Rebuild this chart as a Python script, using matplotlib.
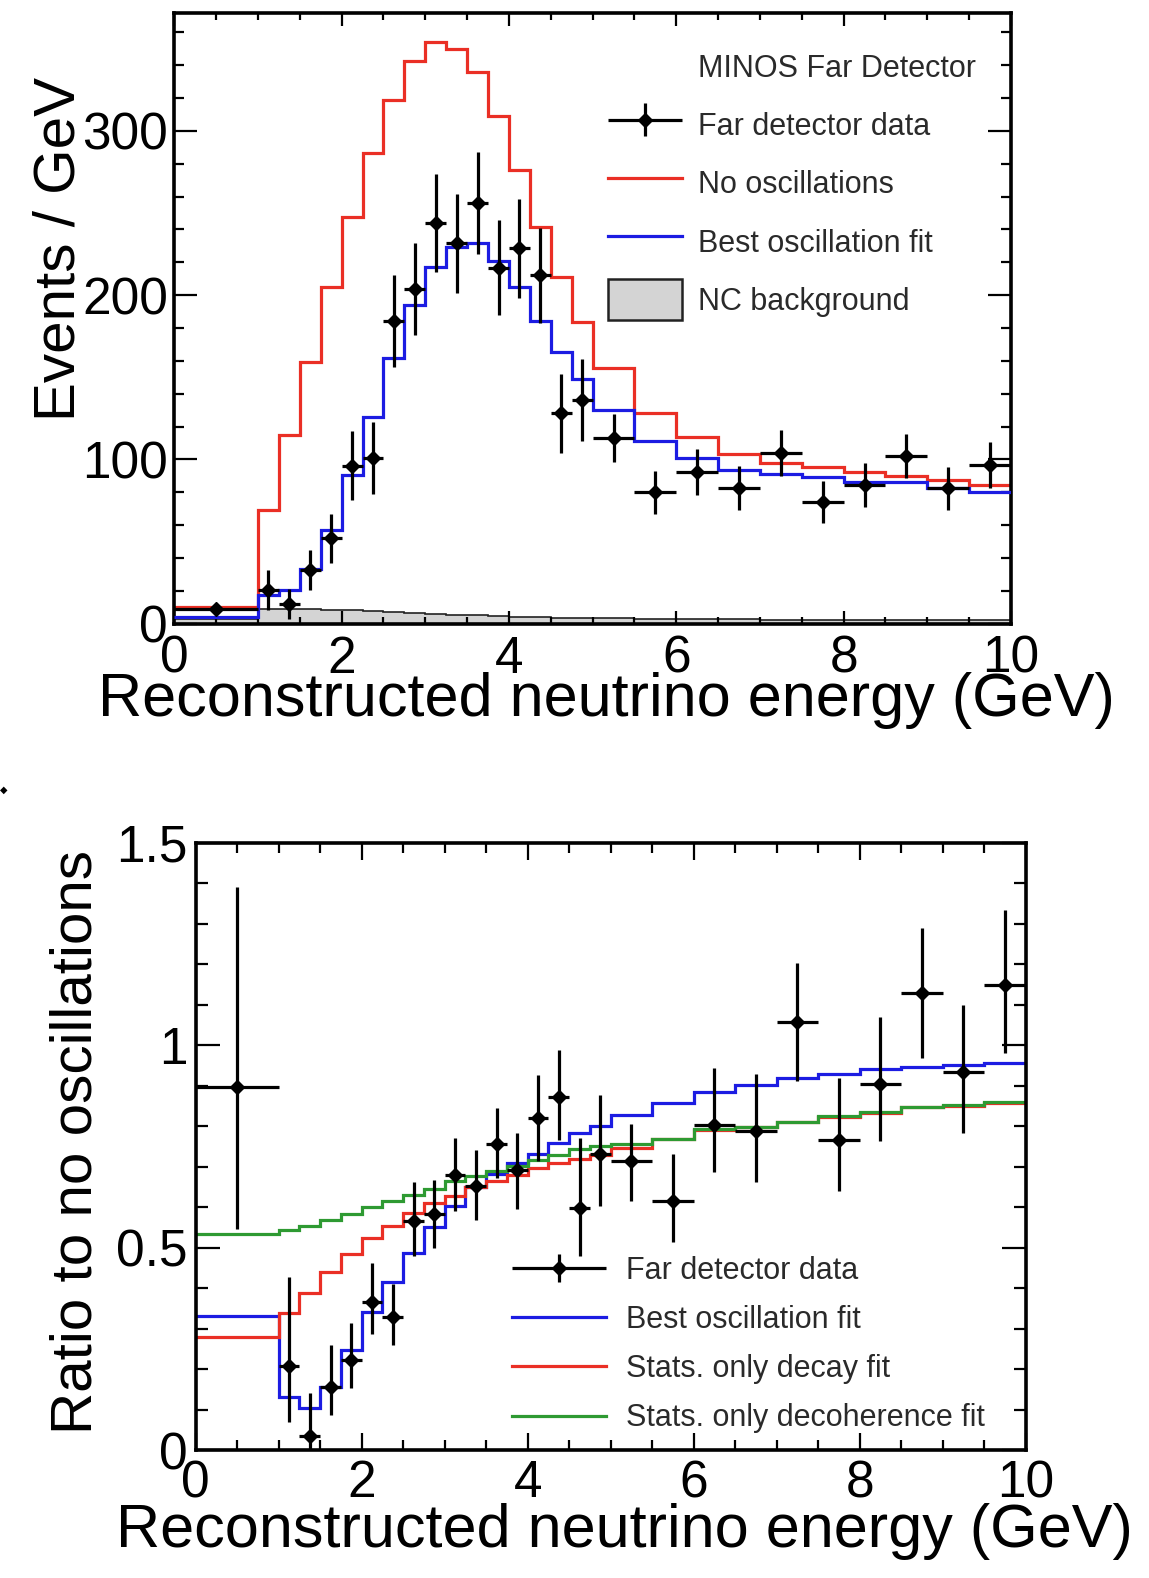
import numpy as np
import matplotlib
matplotlib.use("Agg")
import matplotlib.pyplot as plt
from matplotlib.lines import Line2D
from matplotlib.patches import Patch
from matplotlib.legend_handler import HandlerErrorbar
from matplotlib.ticker import MultipleLocator, FixedLocator, FixedFormatter

plt.rcParams['font.family'] = ['Liberation Sans', 'DejaVu Sans']

# ---------------- data ----------------
bin_edges = [0, 1.0, 1.25, 1.5, 1.75, 2.0, 2.25, 2.5, 2.75, 3.0, 3.25, 3.5, 3.75,
             4.0, 4.25, 4.5, 4.75, 5.0, 5.5, 6.0, 6.5, 7.0, 7.5, 8.0, 8.5, 9.0, 9.5, 10.0]

# Top panel: events / GeV
no_osc = [10.4, 69, 115, 159.5, 205, 247.7, 286.7, 319, 342.7, 354, 349.6, 336, 309,
          276, 241.6, 211, 183.8, 155.6, 128, 113.4, 103, 97.6, 95.6, 92.5, 90, 87.5, 84.4]
best_fit = [4.3, 17.5, 20.5, 33, 57, 90.5, 126, 161.5, 194, 217, 229, 231.5, 221,
            205, 184, 165.5, 149, 130, 111.4, 101, 93.5, 91, 89.5, 86.4, 86.4, 82.4, 80.3]
nc_bkg = [3.0, 9.0, 9.0, 8.8, 8.5, 8.0, 7.5, 7.0, 6.5, 6.0, 5.5, 5.0, 4.5,
          4.2, 4.0, 3.7, 3.5, 3.2, 3.0, 2.8, 2.6, 2.5, 2.4, 2.3, 2.2, 2.1, 2.0]
data_events = [9, 20.5, 12, 32.7, 52, 96, 100.7, 184, 204, 244, 231.5, 256, 216.7,
               228.5, 212, 128, 136, 113, 80, 92.5, 82.4, 104, 74, 84.4, 102, 82.4, 96.6]
data_events_err = [3, 12, 9, 12, 15, 21, 22, 28, 28, 30, 30, 31, 29,
                   30, 29, 24, 25, 14.5, 13, 14, 13.5, 14, 13, 13.5, 13.5, 13, 14]

# Bottom panel: ratio to no oscillations
ratio_best = [0.332, 0.131, 0.103, 0.156, 0.246, 0.341, 0.415, 0.486, 0.55, 0.603, 0.649, 0.681, 0.708,
              0.732, 0.759, 0.782, 0.80, 0.828, 0.856, 0.883, 0.901, 0.918, 0.928, 0.94, 0.946, 0.951, 0.956]
ratio_decay = [0.278, 0.338, 0.387, 0.439, 0.483, 0.524, 0.554, 0.585, 0.609, 0.628, 0.649, 0.665, 0.68,
               0.696, 0.708, 0.718, 0.729, 0.745, 0.768, 0.79, 0.798, 0.809, 0.823, 0.833, 0.846, 0.85, 0.858]
ratio_decoh = [0.534, 0.544, 0.554, 0.568, 0.583, 0.599, 0.614, 0.631, 0.645, 0.665, 0.677, 0.69, 0.702,
               0.716, 0.729, 0.743, 0.751, 0.757, 0.768, 0.793, 0.798, 0.811, 0.825, 0.835, 0.848, 0.852, 0.86]
ratio_data = [0.897, 0.207, 0.034, 0.156, 0.222, 0.365, 0.328, 0.565, 0.583, 0.68, 0.653, 0.755, 0.691,
              0.821, 0.872, 0.598, 0.731, 0.713, 0.616, 0.803, 0.787, 1.057, 0.765, 0.903, 1.129, 0.934, 1.149]
ratio_lo = [0.545, 0.07, 0.0, 0.086, 0.152, 0.287, 0.259, 0.48, 0.50, 0.59, 0.567, 0.673, 0.595,
            0.714, 0.765, 0.48, 0.603, 0.616, 0.513, 0.686, 0.663, 0.911, 0.639, 0.764, 0.969, 0.784, 0.981]
ratio_hi = [1.39, 0.427, 0.141, 0.259, 0.313, 0.461, 0.409, 0.661, 0.667, 0.77, 0.74, 0.845, 0.784,
            0.926, 0.989, 0.77, 0.878, 0.806, 0.731, 0.944, 0.929, 1.203, 0.919, 1.069, 1.29, 1.10, 1.334]

top_yticks = [0, 100, 200, 300]
top_yticklabels = ["0", "100", "200", "300"]
bot_yticks = [0, 0.5, 1.0, 1.5]
bot_yticklabels = ["0", "0.5", "1", "1.5"]
xticks = [0, 2, 4, 6, 8, 10]
xticklabels = ["0", "2", "4", "6", "8", "10"]

# ---------------- styling ----------------
RED = '#ea2f25'
BLUE = '#1c1ce2'
GREEN = '#2e9a32'
LW = 2.3
TICK_FS = 37
XLABEL_FS = 44
YLABEL_FS = 42
LEG_FS = 22

edges = np.array(bin_edges)
centers = 0.5 * (edges[:-1] + edges[1:])
halfw = 0.5 * np.diff(edges)

fig = plt.figure(figsize=(11.49, 15.78), dpi=100)
ax1 = fig.add_axes([0.1517, 0.6048, 0.7282, 0.3872])
ax2 = fig.add_axes([0.1703, 0.0811, 0.7224, 0.3849])


def style_axes(ax, xmaj_len, xmin_len, ymaj_len, ymin_len, xpad, ypad):
    for s in ax.spines.values():
        s.set_linewidth(2.6)
    ax.tick_params(which='both', direction='in', top=True, right=True, width=1.6,
                   labelsize=TICK_FS, colors='black')
    ax.tick_params(axis='x', which='major', length=xmaj_len, pad=xpad)
    ax.tick_params(axis='x', which='minor', length=xmin_len)
    ax.tick_params(axis='y', which='major', length=ymaj_len, pad=ypad)
    ax.tick_params(axis='y', which='minor', length=ymin_len)
    ax.xaxis.set_major_locator(FixedLocator(xticks))
    ax.xaxis.set_major_formatter(FixedFormatter(xticklabels))
    ax.xaxis.set_minor_locator(MultipleLocator(0.5))


# ---------------- top panel ----------------
ax1.stairs(nc_bkg, edges, fill=True, color='#d4d4d4', baseline=0, zorder=1)
ax1.stairs(nc_bkg, edges, color='#222222', linewidth=1.2, baseline=None, zorder=1.5)
ax1.stairs(no_osc, edges, color=RED, linewidth=LW, baseline=None, zorder=2)
ax1.stairs(best_fit, edges, color=BLUE, linewidth=LW, baseline=None, zorder=3)
eb1 = ax1.errorbar(centers, data_events, yerr=data_events_err, xerr=halfw, fmt='D',
                   color='black', ms=7.5, elinewidth=2.3, capsize=0, zorder=4)

ax1.set_xlim(0, 10)
ax1.set_ylim(0, 372)
style_axes(ax1, 9.5, 5, 16.5, 7.5, 8, 4.5)
ax1.yaxis.set_major_locator(FixedLocator(top_yticks))
ax1.yaxis.set_major_formatter(FixedFormatter(top_yticklabels))
ax1.yaxis.set_minor_locator(MultipleLocator(20))

ax1.text(0.516, -0.152, "Reconstructed neutrino energy (GeV)", transform=ax1.transAxes,
         fontsize=XLABEL_FS, ha='center', va='baseline')
ax1.text(-0.1187, 0.613, "Events / GeV", transform=ax1.transAxes, fontsize=YLABEL_FS,
         rotation=90, rotation_mode='anchor', ha='center', va='baseline')

h_header = Line2D([], [], linestyle='none')
h_no = Line2D([], [], color=RED, linewidth=LW)
h_best = Line2D([], [], color=BLUE, linewidth=LW)
h_nc = Patch(facecolor='#d4d4d4', edgecolor='#222222', linewidth=1.8)
leg1 = ax1.legend([h_header, eb1, h_no, h_best, h_nc],
                  ["MINOS Far Detector", "Far detector data", "No oscillations",
                   "Best oscillation fit", "NC background"],
                  loc='upper left', bbox_to_anchor=(0.518, 0.945), frameon=False,
                  fontsize=LEG_FS, borderpad=0, borderaxespad=0,
                  handlelength=2.42, handleheight=1.686, handletextpad=0.52,
                  labelspacing=0.567, numpoints=1,
                  handler_map={type(eb1): HandlerErrorbar(xerr_size=1.21, yerr_size=0.54)})
for t in leg1.get_texts():
    t.set_color('#2a2a2a')

# ---------------- bottom panel ----------------
ax2.stairs(ratio_best, edges, color=BLUE, linewidth=LW, baseline=None, zorder=2)
ax2.stairs(ratio_decay, edges, color=RED, linewidth=LW, baseline=None, zorder=2.2)
ax2.stairs(ratio_decoh, edges, color=GREEN, linewidth=LW, baseline=None, zorder=2.4)
rd = np.array(ratio_data)
yerr2 = [rd - np.array(ratio_lo), np.array(ratio_hi) - rd]
eb2 = ax2.errorbar(centers, ratio_data, yerr=yerr2, xerr=halfw, fmt='D',
                   color='black', ms=7.5, elinewidth=2.3, capsize=0, zorder=4)

ax2.set_xlim(0, 10)
ax2.set_ylim(0, 1.5)
style_axes(ax2, 12, 7.5, 17, 8.5, 6.5, 6)
ax2.yaxis.set_major_locator(FixedLocator(bot_yticks))
ax2.yaxis.set_major_formatter(FixedFormatter(bot_yticklabels))
ax2.yaxis.set_minor_locator(MultipleLocator(0.1))

ax2.text(0.516, -0.159, "Reconstructed neutrino energy (GeV)", transform=ax2.transAxes,
         fontsize=XLABEL_FS, ha='center', va='baseline')
ax2.text(-0.126, 0.507, "Ratio to no oscillations", transform=ax2.transAxes,
         fontsize=YLABEL_FS, rotation=90, rotation_mode='anchor', ha='center', va='baseline')

h_decay = Line2D([], [], color=RED, linewidth=LW)
h_decoh = Line2D([], [], color=GREEN, linewidth=LW)
leg2 = ax2.legend([eb2, h_best, h_decay, h_decoh],
                  ["Far detector data", "Best oscillation fit", "Stats. only decay fit",
                   "Stats. only decoherence fit"],
                  loc='upper left', bbox_to_anchor=(0.381, 0.320), frameon=False,
                  fontsize=LEG_FS, borderpad=0, borderaxespad=0,
                  handlelength=3.07, handletextpad=0.65, labelspacing=0.63, numpoints=1,
                  handler_map={type(eb2): HandlerErrorbar(xerr_size=1.54, yerr_size=0.46)})
for t in leg2.get_texts():
    t.set_color('#2a2a2a')

# small stray mark at the left edge of the original figure
fig.text(0.0, 1 - 790 / 1578, "\u25c6", fontsize=7, ha='left', va='center',
         family=['DejaVu Sans'])

fig.savefig("out.png", dpi=100)
